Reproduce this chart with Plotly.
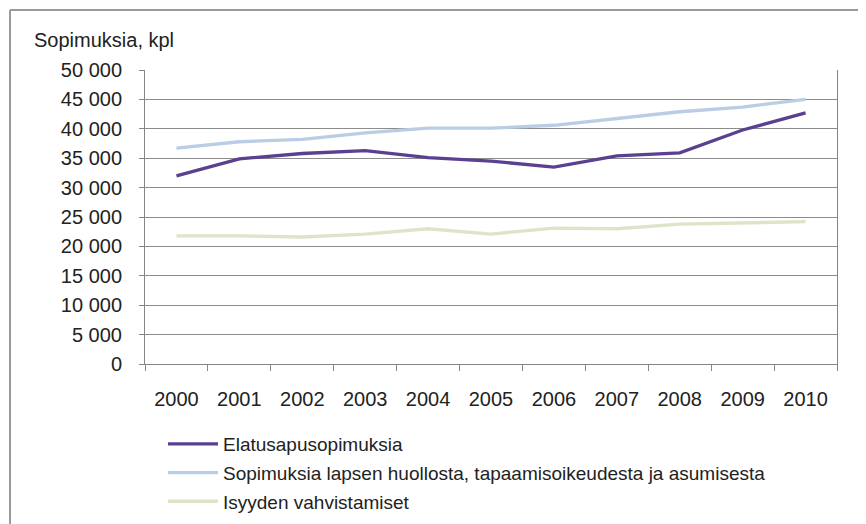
import plotly.graph_objects as go

years = ["2000", "2001", "2002", "2003", "2004", "2005", "2006", "2007", "2008", "2009", "2010"]
elatus = [32000, 34900, 35800, 36300, 35100, 34500, 33500, 35400, 35900, 39800, 42700]
huolto = [36700, 37800, 38200, 39300, 40100, 40100, 40600, 41800, 42900, 43700, 45000]
isyys = [21800, 21800, 21600, 22100, 23000, 22100, 23100, 23000, 23800, 24000, 24200]
names = ["Elatusapusopimuksia",
         "Sopimuksia lapsen huollosta, tapaamisoikeudesta ja asumisesta",
         "Isyyden vahvistamiset"]
yticks = list(range(0, 50001, 5000))

# page body adds an 8px offset; work in reference pixel coordinates
OFF = 8
W, H = 866 - OFF, 524 - OFF
PL, PR, PT, PB = 145, 837, 70, 364  # plot area in reference pixels
L, R, T, B = PL - OFF, W - (PR - OFF), PT - OFF, H - (PB - OFF)
pw, ph = PR - PL, PB - PT

def px(x):
    return (x - PL) / pw

def py(y):
    return (PB - y) / ph

fig = go.Figure()
for i, (vals, nm, col) in enumerate([(elatus, names[0], "#5B3F91"),
                                     (huolto, names[1], "#B9CDE5"),
                                     (isyys, names[2], "#DCE5C8")]):
    fig.add_trace(go.Scatter(x=years, y=vals, name=nm, mode="lines",
                             legendgroup=str(i),
                             line=dict(color=col, width=3.3)))

font = "Liberation Sans, Arial, sans-serif"
fig.update_layout(
    width=W, height=H,
    margin=dict(l=L, r=R, t=T, b=B, pad=0, autoexpand=False),
    paper_bgcolor="white", plot_bgcolor="white",
    separators=", ",
    font=dict(family=font, size=20, color="#222222"),
    showlegend=True,
    legend=dict(x=px(163), y=py(425), xanchor="left", yanchor="top",
                font=dict(size=19, color="#222222"), tracegroupgap=1,
                itemwidth=50, bgcolor="rgba(0,0,0,0)"),
    xaxis=dict(type="category", range=[-0.5, 10.5], tickson="boundaries",
               ticks="outside", ticklen=6, automargin=False,
               tickcolor="#868686", showline=True, linecolor="#868686",
               showgrid=False, tickfont=dict(size=20), ticklabelstandoff=17),
    yaxis=dict(range=[0, 50000], tickvals=yticks, tickformat=",d",
               ticks="outside", ticklen=5, tickcolor="#868686", automargin=False,
               showline=True, linecolor="#868686", mirror=True,
               showgrid=True, gridcolor="#8C8C8C", gridwidth=1,
               zeroline=False, tickfont=dict(size=20), ticklabelstandoff=13),
    annotations=[dict(text="Sopimuksia, kpl", xref="paper", yref="paper",
                      x=px(32), y=py(40), xanchor="left", yanchor="middle",
                      showarrow=False, font=dict(size=20, color="#222222"))],
    shapes=[
        dict(type="line", xref="paper", yref="paper", x0=px(10), x1=px(880),
             y0=py(10), y1=py(10), line=dict(color="#9A9A9A", width=2)),
        dict(type="line", xref="paper", yref="paper", x0=px(10), x1=px(10),
             y0=py(10), y1=py(540), line=dict(color="#9A9A9A", width=2)),
    ],
)
fig.write_html("out.html")
